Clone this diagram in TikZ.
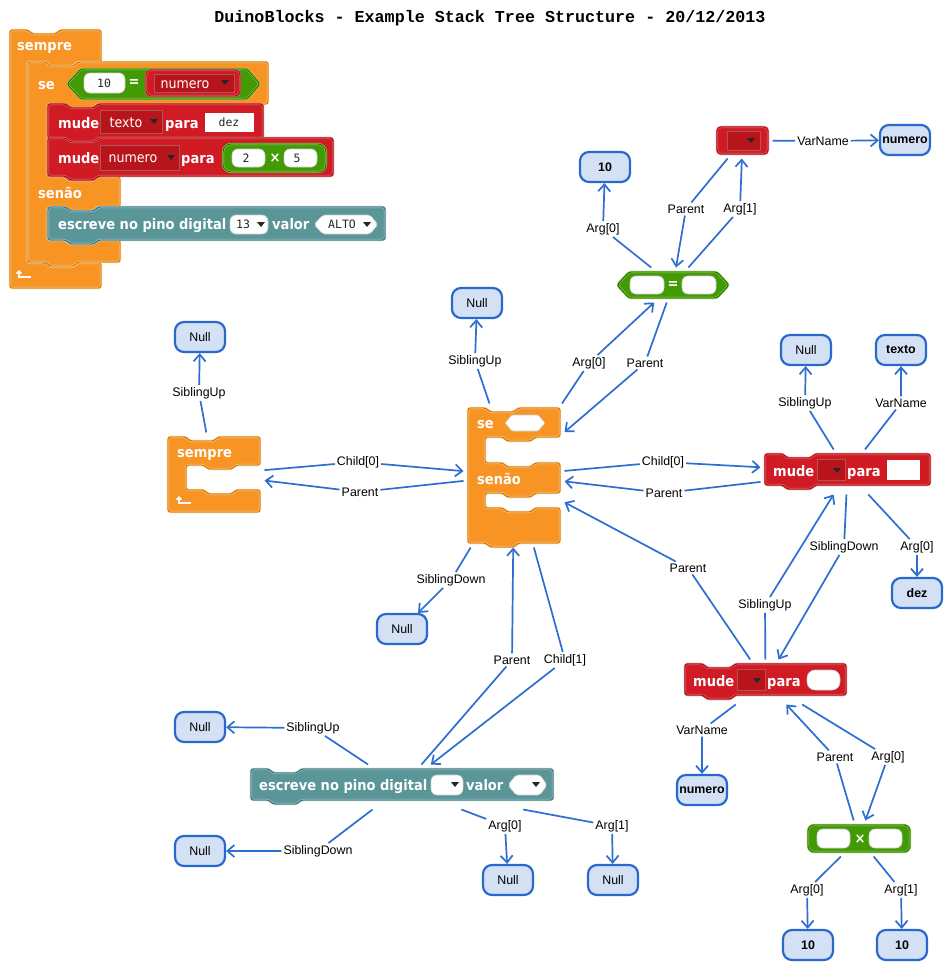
\documentclass[tikz,border=0pt]{standalone}
\usepackage{fontspec}
\setmainfont{Liberation Sans}
\newfontfamily\lblfont{Liberation Sans}
\newfontfamily\blkfont[FakeStretch=0.9]{DejaVu Sans}
\newfontfamily\valfont{DejaVu Sans Mono}
\newfontfamily\titlefont{Liberation Mono}
\usetikzlibrary{arrows.meta}

\definecolor{orangeF}{RGB}{248,148,36}
\definecolor{orangeD}{RGB}{196,108,10}
\definecolor{orangeL}{RGB}{255,200,120}
\definecolor{redF}{RGB}{208,26,36}
\definecolor{redD}{RGB}{140,12,18}
\definecolor{redL}{RGB}{236,95,100}
\definecolor{redDrop}{RGB}{184,20,28}
\definecolor{greenF}{RGB}{66,154,5}
\definecolor{greenD}{RGB}{38,96,0}
\definecolor{greenL}{RGB}{135,205,75}
\definecolor{tealF}{RGB}{90,149,152}
\definecolor{tealD}{RGB}{52,98,101}
\definecolor{tealL}{RGB}{155,198,200}
\definecolor{edgeblue}{RGB}{45,110,210}
\definecolor{nodefill}{RGB}{212,224,244}
\definecolor{nodeborder}{RGB}{40,105,205}

\newcommand\lblsize{\fontsize{12.4}{14}\selectfont}
\newcommand\blksize{\fontsize{14.5}{16}\selectfont}

% connector notch (dip in a top edge, drawn left to right)
\newcommand\blkNotch[2]{-- ({#1+18},{#2}) -- ({#1+22},{#2+4}) -- ({#1+46},{#2+4}) -- ({#1+50},{#2})}
% connector tab (bump under a bottom edge, drawn right to left)
\newcommand\blkTab[2]{-- ({#1+50},{#2}) -- ({#1+46},{#2+4}) -- ({#1+22},{#2+4}) -- ({#1+18},{#2})}
% plain statement block: style, left, top, right, bottom
\newcommand\stmtBlock[5]{\draw[#1] ({#2},{#3}) \blkNotch{#2}{#3} -- ({#4},{#3}) -- ({#4},{#5}) \blkTab{#2}{#5} -- ({#2},{#5}) -- cycle;}
% small dropdown triangle
\newcommand\dropTri[2]{\fill[black!85] ({#1-4},{#2-2}) -- ({#1+4},{#2-2}) -- (#1,{#2+3}) -- cycle;}

\begin{document}
\begin{tikzpicture}[x=1pt,y=-1pt,
  link/.style={draw=edgeblue, line width=1.7pt, -{Straight Barb[length=7pt,width=12pt]}},
  lbl/.style={font=\lblfont\lblsize, inner sep=2pt, text=black},
  valnode/.style={draw=nodeborder, fill=nodefill, line width=2.2pt, rounded corners=9pt,
    minimum width=50pt, minimum height=30pt, inner sep=0pt, font=\lblfont\lblsize},
  valbold/.style={valnode, font=\lblfont\lblsize\bfseries},
  hitbox/.style={rectangle, inner sep=0pt, outer sep=4.5pt},
  blk/.style={line width=2.2pt, line join=round, rounded corners=2.5pt},
  orangeblk/.style={blk, fill=orangeF, draw=orangeL, postaction={draw=orangeD, line width=0.8pt, fill=none}},
  redblk/.style={blk, fill=redF, draw=redL, postaction={draw=redD, line width=0.8pt, fill=none}},
  greenblk/.style={blk, fill=greenF, draw=greenL, postaction={draw=greenD, line width=0.8pt, fill=none}},
  tealblk/.style={blk, fill=tealF, draw=tealL, postaction={draw=tealD, line width=0.8pt, fill=none}},
  blktxt/.style={font=\blkfont\bfseries\blksize, text=white, inner sep=0pt, anchor=base west},
  droptxt/.style={font=\blkfont\fontsize{14}{16}\selectfont, text=white, inner sep=0pt, anchor=base},
  valtxt/.style={font=\valfont\fontsize{11.5}{13}\selectfont, text=black!85, inner sep=0pt},
  signtxt/.style={font=\blkfont\bfseries\blksize, text=white, inner sep=0pt},
  slot/.style={fill=white, draw=black!20, line width=0.6pt, rounded corners=6pt},
  dropbox/.style={fill=redDrop, draw=redD!70, line width=0.6pt},
  retarrow/.style={white, line width=1.6pt, {Straight Barb[length=2.5pt,width=5pt]}-}
]
\useasboundingbox[fill=white] (0,0) rectangle (950,969);

\node[font=\titlefont\bfseries\fontsize{16.7}{20}\selectfont] (title) at (490,18)
  {DuinoBlocks - Example Stack Tree Structure - 20/12/2013};

% ================= program listing =================
% sempre
\draw[orangeblk] (10,30) \blkNotch{10}{30} -- (101,30) -- (101,62) \blkTab{27}{62} -- (27,62)
  -- (27,263) \blkNotch{27}{263} -- (101,263) -- (101,288) -- (10,288) -- cycle;
\node[blktxt] (cSempre) at (17,50) {sempre};
\draw[retarrow] (19,270) -- (19,277) -- (31,277);
% se / senao
\draw[orangeblk] (28,62) \blkNotch{28}{62} -- (268,62) -- (268,104) \blkTab{47}{104} -- (47,104)
  -- (47,177) \blkNotch{47}{177} -- (120,177) -- (120,207) \blkTab{47}{207} -- (47,207)
  -- (47,240) \blkNotch{47}{240} -- (120,240) -- (120,262) \blkTab{28}{262} -- (28,262) -- cycle;
\node[blktxt] (cSe) at (38,89) {se};
\node[blktxt] (cSenao) at (38,198) {senão};
% condition 10 = numero
\draw[greenblk] (67,84) -- (81,69) -- (247,69) -- (260,84) -- (247,99) -- (81,99) -- cycle;
\draw[slot] (84,73) rectangle (125,93);
\node[valtxt] (c10) at (104,83) {10};
\node[signtxt] (cEq) at (134,83) {=};
\draw[redblk, rounded corners=5pt] (146,70) rectangle (240,96);
\draw[dropbox] (154,74) rectangle (234,92);
\node[droptxt] (cNum) at (185,88) {numero};
\dropTri{225}{82}
% mude texto para dez
\stmtBlock{redblk}{48}{104}{263}{138}
\node[blktxt] (cMude1) at (58,128) {mude};
\draw[dropbox] (100,110) rectangle (162,133);
\node[droptxt] (cTexto) at (126,127) {texto};
\dropTri{154}{121}
\node[blktxt] (cPara1) at (165,128) {para};
\fill[white] (205,113) rectangle (254,132);
\node[valtxt] (cDez) at (229,122) {dez};
% mude numero para 2 x 5
\stmtBlock{redblk}{48}{138}{333}{176}
\node[blktxt] (cMude2) at (58,163) {mude};
\draw[dropbox] (100,145) rectangle (179,170);
\node[droptxt] (cNum2) at (133,162.5) {numero};
\dropTri{171}{157}
\node[blktxt] (cPara2) at (181,163) {para};
\draw[greenblk, rounded corners=8pt] (223,144) rectangle (326,172);
\draw[slot] (232,149) rectangle (265,167);
\node[valtxt] (c2) at (246,158) {2};
\node[signtxt] (cTimes) at (275,158) {×};
\draw[slot] (284,149) rectangle (317,167);
\node[valtxt] (c5) at (297,158) {5};
% escreve no pino digital
\stmtBlock{tealblk}{48}{207}{385}{240}
\node[blktxt] (cEsc) at (58,229) {escreve no pino digital};
\draw[slot] (230,215) rectangle (268,234);
\node[valtxt] (c13) at (243,224) {13};
\dropTri{261}{224}
\node[blktxt] (cValor) at (272,229) {valor};
\draw[slot, rounded corners=2pt] (314,224.5) -- (323,215) -- (370,215) -- (378,224.5) -- (370,234) -- (323,234) -- cycle;
\node[valtxt] (cAlto) at (342,224) {ALTO};
\dropTri{367}{224}

% ================= tree blocks =================
% sempre
\draw[orangeblk] (168,437) \blkNotch{168}{437} -- (260,437) -- (260,465) \blkTab{186}{465} -- (186,465)
  -- (186,490) \blkNotch{186}{490} -- (260,490) -- (260,512) -- (168,512) -- cycle;
\node[blktxt] (tSempre) at (177,457) {sempre};
\draw[retarrow] (179,496) -- (179,503) -- (191,503);
\node[hitbox, minimum width=92pt, minimum height=75pt] (sempreB) at (214,474.5) {};

% se / senao
\draw[orangeblk] (468,408) \blkNotch{468}{408} -- (560,408) -- (560,437) \blkTab{485}{437} -- (485,437)
  -- (485,463) \blkNotch{485}{463} -- (560,463) -- (560,493) \blkTab{485}{493} -- (485,493)
  -- (485,508) \blkNotch{485}{508} -- (560,508) -- (560,543) \blkTab{468}{543} -- (468,543) -- cycle;
\node[blktxt] (tSe) at (477,428) {se};
\draw[slot, rounded corners=1pt] (505,423) -- (512,415) -- (538,415) -- (545,423) -- (538,431) -- (512,431) -- cycle;
\node[blktxt] (tSenao) at (477,484) {senão};
\node[hitbox, minimum width=92pt, minimum height=135pt] (seB) at (514,475.5) {};

% =
\draw[greenblk] (617,285) -- (629,272) -- (717,272) -- (729,285) -- (717,298) -- (629,298) -- cycle;
\draw[slot] (630,276) rectangle (664,294);
\draw[slot] (682,276) rectangle (716,294);
\node[signtxt] (tEq) at (673,285) {=};
\node[hitbox, minimum width=112pt, minimum height=26pt] (eqB) at (673,285) {};

% variable getter
\draw[redblk, rounded corners=4pt] (717,127) rectangle (768,154);
\draw[dropbox] (727,131) rectangle (760,150);
\dropTri{751}{140}
\node[hitbox, minimum width=51pt, minimum height=27pt] (varB) at (742.5,140.5) {};

% mude (texto)
\stmtBlock{redblk}{765}{454}{930}{485}
\node[blktxt] (tMude1) at (773,476) {mude};
\draw[dropbox] (817,459) rectangle (845,480);
\dropTri{837}{470}
\node[blktxt] (tPara1) at (847,476) {para};
\fill[white] (887,460) rectangle (920,480);
\node[hitbox, minimum width=165pt, minimum height=36pt] (mudeTB) at (847.5,472) {};

% mude (numero)
\stmtBlock{redblk}{685}{664}{846}{695}
\node[blktxt] (tMude2) at (693,686) {mude};
\draw[dropbox] (737,669) rectangle (765,690);
\dropTri{757}{680}
\node[blktxt] (tPara2) at (767,686) {para};
\draw[slot, rounded corners=8pt] (807,670) rectangle (840,690);
\node[hitbox, minimum width=161pt, minimum height=36pt] (mudeNB) at (765.5,682) {};

% x
\draw[greenblk, rounded corners=6pt] (808,825) rectangle (910,852);
\draw[slot] (817,829) rectangle (850,848);
\draw[slot] (869,829) rectangle (902,848);
\node[signtxt] (tTimes) at (860,839) {×};
\node[hitbox, minimum width=102pt, minimum height=27pt] (mulB) at (859,838.5) {};

% escreve no pino digital
\stmtBlock{tealblk}{251}{769}{553}{800}
\node[blktxt] (tEsc) at (259,790) {escreve no pino digital};
\draw[slot] (431,775) rectangle (463,795);
\dropTri{455}{784}
\node[blktxt] (tValor) at (466,790) {valor};
\draw[slot, rounded corners=2pt] (508,785) -- (516,775) -- (540,775) -- (547,785) -- (540,795) -- (516,795) -- cycle;
\dropTri{536}{784}
\node[hitbox, minimum width=302pt, minimum height=36pt] (escB) at (402,787) {};

% ================= value / null nodes =================
\node[valnode] (n1) at (200,337) {Null};
\node[valnode] (n2) at (477,303) {Null};
\node[valnode] (n3) at (402,629) {Null};
\node[valbold] (v10a) at (605,167) {10};
\node[valbold] (vnum1) at (905,140) {numero};
\node[valnode] (n4) at (806,350) {Null};
\node[valbold] (vtexto) at (901,350) {texto};
\node[valbold] (vdez) at (917,593) {dez};
\node[valbold] (vnum2) at (702,790) {numero};
\node[valbold] (v10b) at (808,945) {10};
\node[valbold] (v10c) at (902,945) {10};
\node[valnode] (n5) at (200,727) {Null};
\node[valnode] (n6) at (200,851) {Null};
\node[valnode] (n7) at (508,880) {Null};
\node[valnode] (n8) at (613,880) {Null};

% ================= edge labels =================
\node[lbl] (l1) at (199,393) {SiblingUp};
\node[lbl] (l2) at (358,462) {Child[0]};
\node[lbl] (l3) at (360,492) {Parent};
\node[lbl] (l4) at (475,361) {SiblingUp};
\node[lbl] (l5) at (589,363) {Arg[0]};
\node[lbl] (l6) at (645,363) {Parent};
\node[lbl] (l7) at (603,229) {Arg[0]};
\node[lbl] (l8) at (686,209) {Parent};
\node[lbl] (l9) at (740,209) {Arg[1]};
\node[lbl] (l10) at (823,141) {VarName};
\node[lbl] (l11) at (663,462) {Child[0]};
\node[lbl] (l12) at (664,493) {Parent};
\node[lbl] (l13) at (688,568) {Parent};
\node[lbl] (l14) at (451,580) {SiblingDown};
\node[lbl] (l15) at (512,660) {Parent};
\node[lbl] (l16) at (565,660) {Child[1]};
\node[lbl] (l17) at (805,403) {SiblingUp};
\node[lbl] (l18) at (901,403) {VarName};
\node[lbl] (l19) at (844,547) {SiblingDown};
\node[lbl] (l20) at (917,547) {Arg[0]};
\node[lbl] (l21) at (765,605) {SiblingUp};
\node[lbl] (l22) at (702,730) {VarName};
\node[lbl] (l23) at (835,757) {Parent};
\node[lbl] (l24) at (888,757) {Arg[0]};
\node[lbl] (l25) at (807,890) {Arg[0]};
\node[lbl] (l26) at (901,890) {Arg[1]};
\node[lbl] (l27) at (313,728) {SiblingUp};
\node[lbl] (l28) at (318,851) {SiblingDown};
\node[lbl] (l29) at (505,826) {Arg[0]};
\node[lbl] (l30) at (612,826) {Arg[1]};

% ================= connectors =================
\draw[link] (sempreB) -- (l1) -- (n1);
\draw[link] (sempreB) -- (l2) -- (seB);
\draw[link] (seB) -- (l3) -- (sempreB);
\draw[link] (seB) -- (l4) -- (n2);
\draw[link] (seB) -- (l5) -- (eqB);
\draw[link] (eqB) -- (l6) -- (seB);
\draw[link] (eqB) -- (l7) -- (v10a);
\draw[link] (varB) -- (l8) -- (eqB);
\draw[link] (eqB) -- (l9) -- (varB);
\draw[link] (varB) -- (l10) -- (vnum1);
\draw[link] (seB) -- (l11) -- (mudeTB);
\draw[link] (mudeTB) -- (l12) -- (seB);
\draw[link] (mudeNB) -- (l13) -- (seB);
\draw[link] (seB) -- (l14) -- (n3);
\draw[link] (escB) -- (l15) -- (seB);
\draw[link] (seB) -- (l16) -- (escB);
\draw[link] (mudeTB) -- (l17) -- (n4);
\draw[link] (mudeTB) -- (l18) -- (vtexto);
\draw[link] (mudeTB) -- (l19) -- (mudeNB);
\draw[link] (mudeTB) -- (l20) -- (vdez);
\draw[link] (mudeNB) -- (l21) -- (mudeTB);
\draw[link] (mudeNB) -- (l22) -- (vnum2);
\draw[link] (mulB) -- (l23) -- (mudeNB);
\draw[link] (mudeNB) -- (l24) -- (mulB);
\draw[link] (mulB) -- (l25) -- (v10b);
\draw[link] (mulB) -- (l26) -- (v10c);
\draw[link] (escB) -- (l27) -- (n5);
\draw[link] (escB) -- (l28) -- (n6);
\draw[link] (escB) -- (l29) -- (n7);
\draw[link] (escB) -- (l30) -- (n8);
\end{tikzpicture}
\end{document}
